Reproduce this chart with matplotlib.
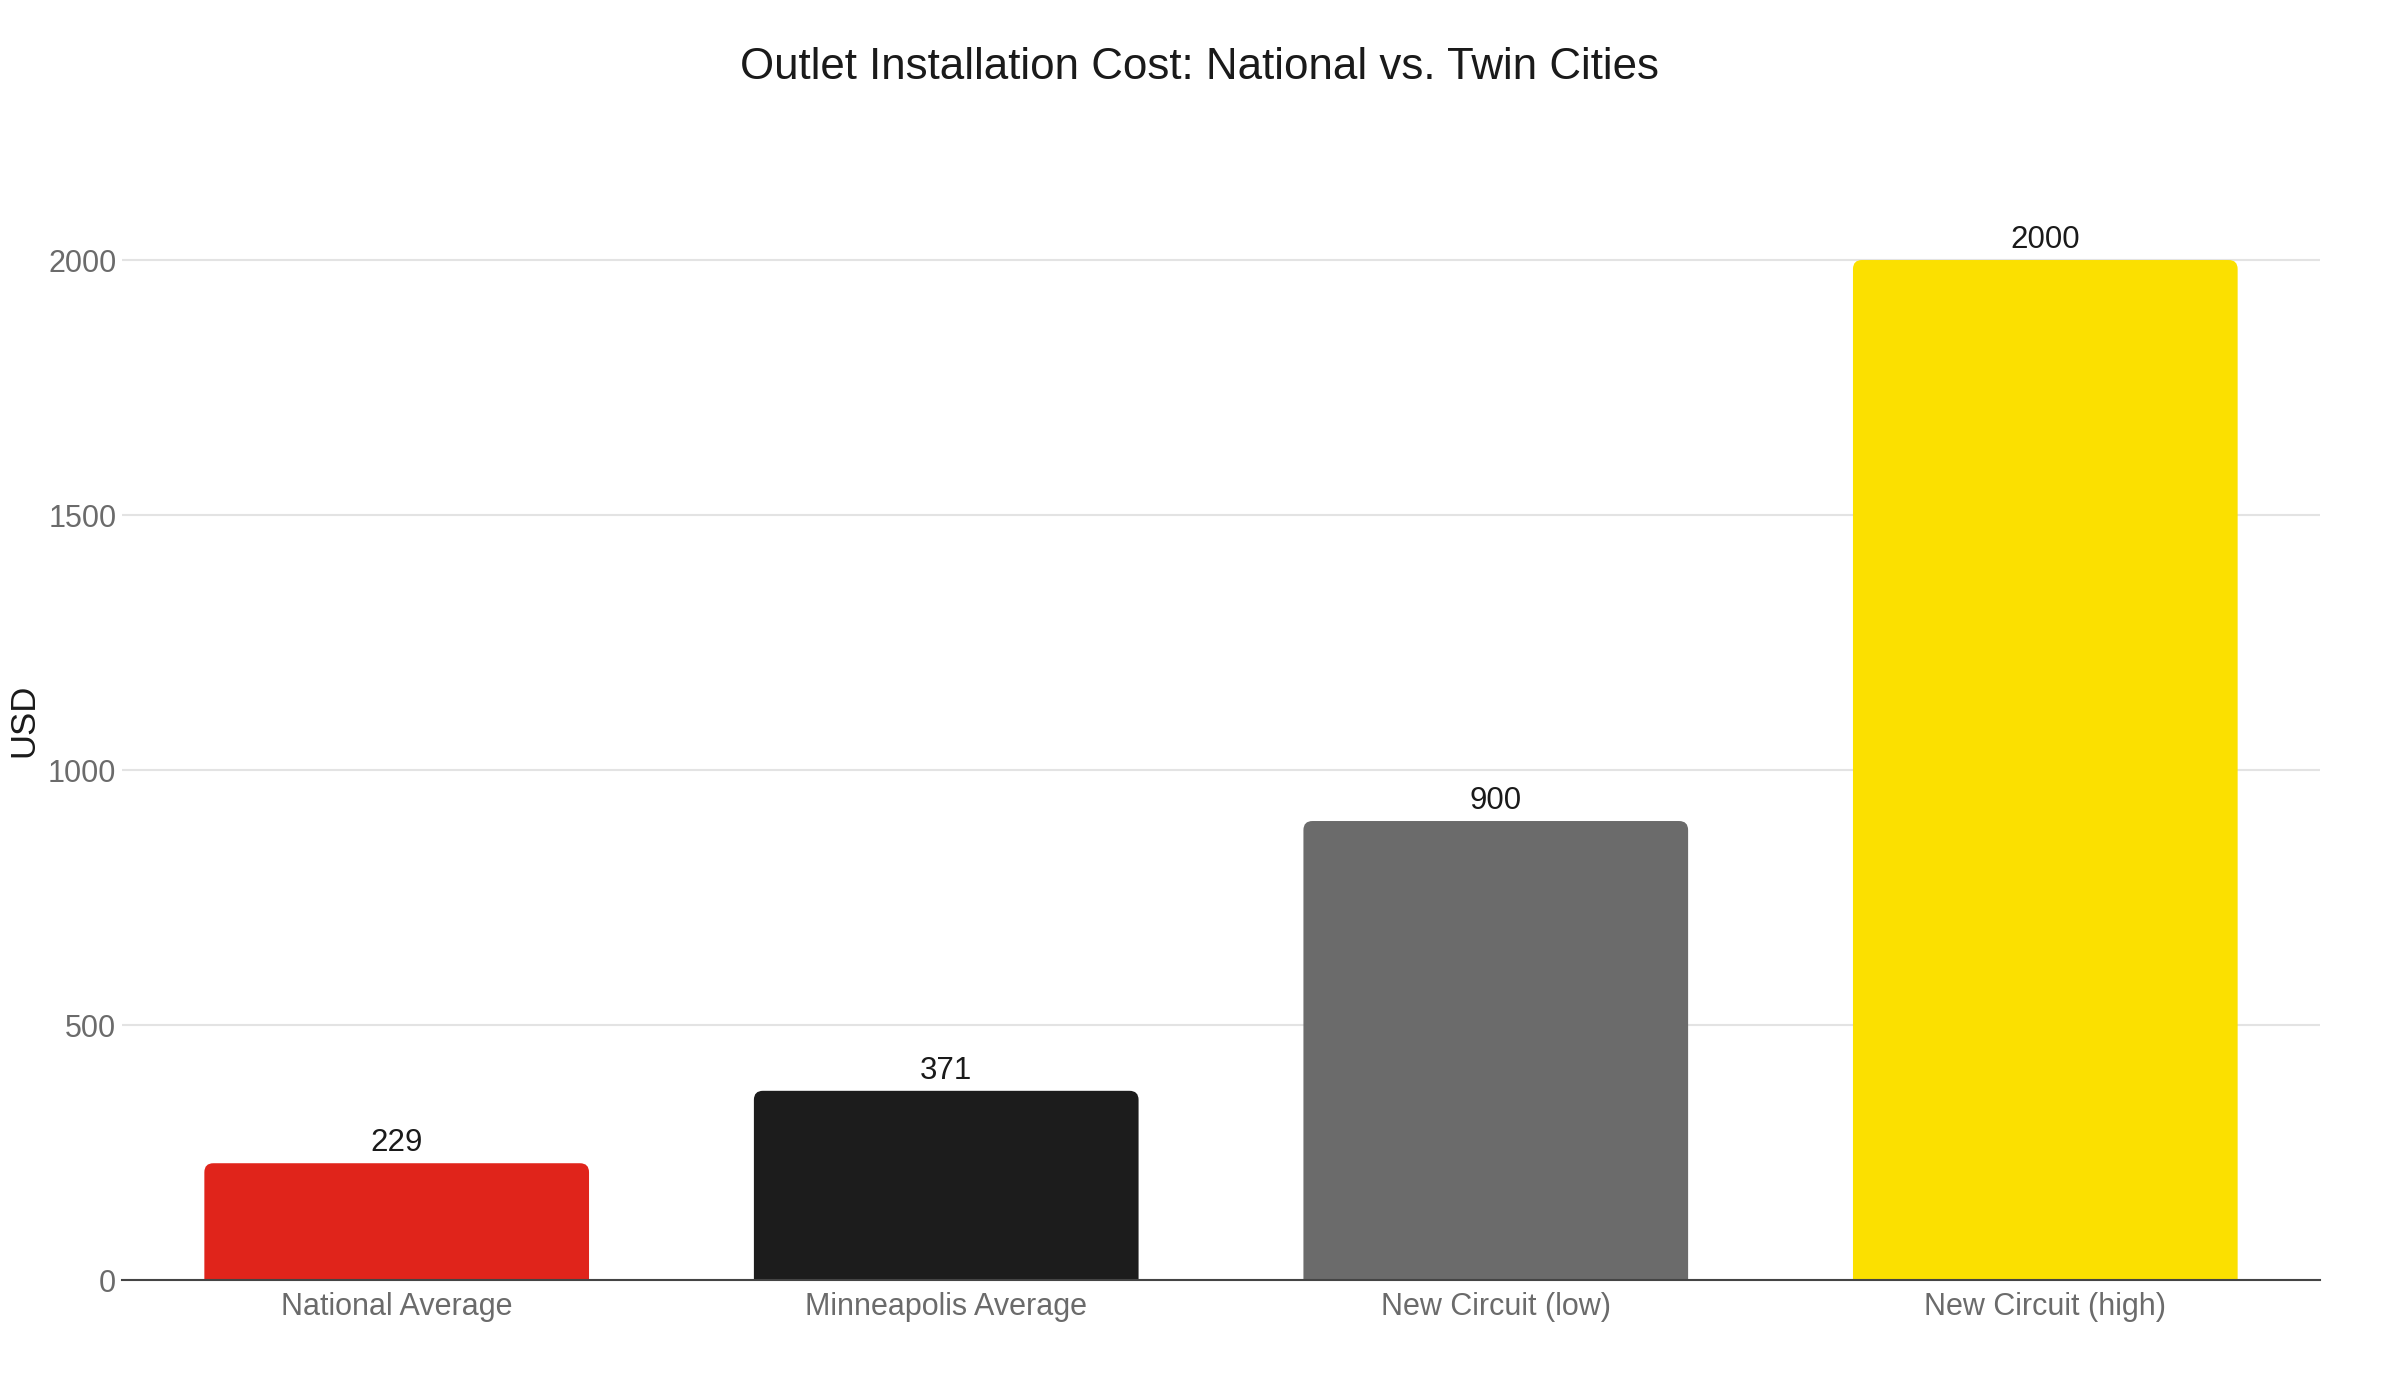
import matplotlib
matplotlib.use("Agg")
import matplotlib.pyplot as plt
from matplotlib.patches import FancyBboxPatch

categories = ["National Average", "Minneapolis Average", "New Circuit (low)", "New Circuit (high)"]
values = [229, 371, 900, 2000]
colors = ["#E0241B", "#1C1C1C", "#6B6B6B", "#FBE000"]
yticks = [0, 500, 1000, 1500, 2000]

plt.rcParams['font.family'] = ['Liberation Sans', 'DejaVu Sans']

fig = plt.figure(figsize=(24, 14), dpi=100)
ax = fig.add_axes([0.0508, 0.0857, 0.9159, 0.765])
ymax = 2100
ax.set_ylim(0, ymax)
ax.set_xlim(-0.5, len(categories) - 0.5)

bars = ax.bar(range(len(categories)), values, width=0.7, color=colors, zorder=3)

# rounded top corners
fig.canvas.draw()
bbox = ax.get_window_extent()
xu_per_px = (len(categories)) / bbox.width
yu_per_px = ymax / bbox.height
r_px = 9
for i, b in enumerate(bars):
    x0, w, h = b.get_x(), b.get_width(), b.get_height()
    rx = r_px * xu_per_px
    ry = r_px * yu_per_px
    p = FancyBboxPatch((x0 + rx, -2 * ry), w - 2 * rx, h + ry,
                       boxstyle=f"round,pad={rx},rounding_size={rx}",
                       mutation_aspect=yu_per_px / xu_per_px,
                       facecolor=b.get_facecolor(), edgecolor="none", zorder=3)
    b.set_visible(False)
    ax.add_patch(p)
    ax.annotate(f"{values[i]}", (x0 + w / 2, h), xytext=(0, 3.5),
                textcoords="offset points", ha="center", va="bottom",
                fontsize=22.5, color="#1a1a1a")

ax.set_yticks(yticks)
ax.set_xticks(range(len(categories)))
ax.set_xticklabels(categories)
ax.tick_params(axis="both", length=0, labelsize=22, labelcolor="#6b6b6b")
ax.tick_params(axis="x", pad=8.5)
ax.tick_params(axis="y", pad=4)
ax.grid(axis="y", color="#e3e3e3", linewidth=1.5, zorder=0)
ax.set_axisbelow(True)
for s in ["top", "right", "left"]:
    ax.spines[s].set_visible(False)
ax.spines["bottom"].set_color("#444444")
ax.spines["bottom"].set_linewidth(1.5)
ax.spines["bottom"].set_zorder(4)

ax.set_ylabel("USD", fontsize=25, color="#1a1a1a")
ax.yaxis.set_label_coords(-0.037, 0.523)
fig.suptitle("Outlet Installation Cost: National vs. Twin Cities", fontsize=31.6,
             color="#1a1a1a", y=0.952, va="center")

fig.savefig("out.png", dpi=100, facecolor="white")
